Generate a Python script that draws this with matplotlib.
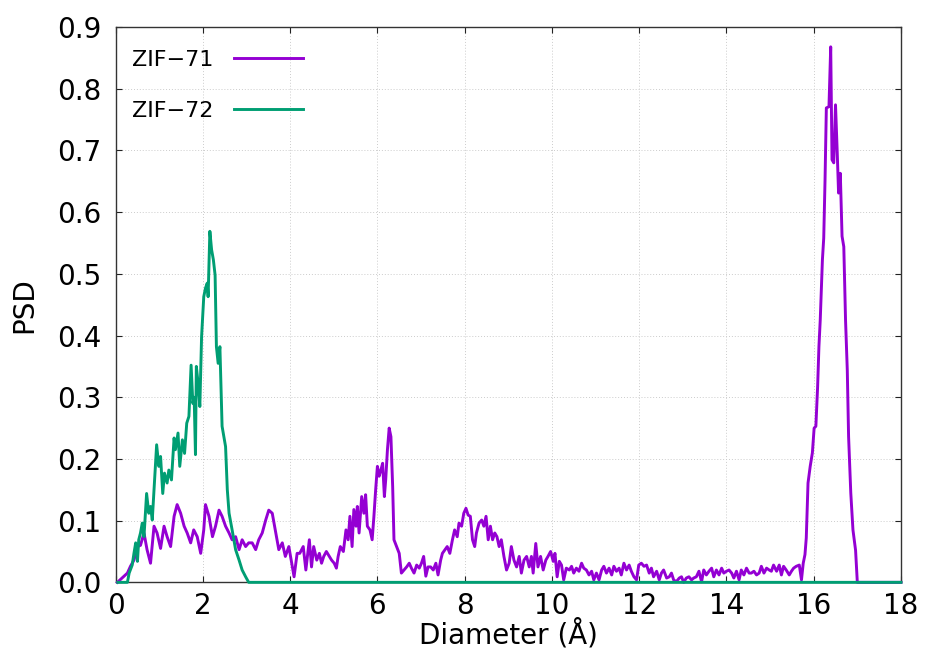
import matplotlib
matplotlib.use("Agg")
import matplotlib.pyplot as plt

# ZIF-71 pore size distribution
zif71_d = [
    0.04, 0.27, 0.34, 0.42, 0.50, 0.57, 0.65, 0.72, 0.80, 0.88, 0.95, 1.03,
    1.11, 1.18, 1.26, 1.34, 1.41, 1.49, 1.57, 1.64, 1.72, 1.79, 1.87, 1.95,
    2.02, 2.06, 2.14, 2.22, 2.29, 2.37, 2.44, 2.52, 2.60, 2.67, 2.75, 2.83,
    2.90, 2.98, 3.05, 3.13, 3.21, 3.28, 3.36, 3.44, 3.51, 3.59, 3.67, 3.74,
    3.82, 3.89, 3.97, 4.09, 4.16,
    4.22, 4.30, 4.36, 4.44, 4.49, 4.54, 4.61, 4.67, 4.72, 4.77, 4.83, 4.90,
    4.95, 5.01, 5.06, 5.10, 5.15, 5.22, 5.28, 5.33, 5.37, 5.42, 5.46, 5.51,
    5.54, 5.58, 5.64, 5.69, 5.73, 5.77, 5.83, 5.88, 5.92, 5.96, 6.00, 6.04,
    6.08, 6.12, 6.16, 6.19, 6.23, 6.27, 6.31, 6.35, 6.38, 6.44, 6.50, 6.55,
    6.61, 6.67, 6.73, 6.78, 6.84, 6.90, 6.96, 7.01, 7.06, 7.11, 7.16, 7.22,
    7.28, 7.34, 7.39, 7.45, 7.49, 7.55, 7.60, 7.66, 7.72, 7.77, 7.83, 7.87,
    7.93, 7.98, 8.03, 8.08, 8.13, 8.18, 8.23, 8.27, 8.33, 8.39, 8.44, 8.49,
    8.54, 8.59, 8.64, 8.69, 8.74, 8.79, 8.84, 8.90, 8.96, 9.02, 9.07, 9.13,
    9.19, 9.25, 9.30, 9.36, 9.42, 9.48, 9.53, 9.57, 9.63, 9.68, 9.74, 9.80,
    9.86, 9.91,
    9.97, 10.03, 10.07, 10.12, 10.17, 10.22, 10.27, 10.33, 10.40, 10.45,
    10.50, 10.56, 10.62, 10.68, 10.73, 10.79, 10.85, 10.91, 10.96, 11.02,
    11.08, 11.14, 11.19, 11.25, 11.31, 11.37, 11.42, 11.48, 11.54, 11.59,
    11.65, 11.71, 11.77, 11.82, 11.88, 11.94, 11.99, 12.05, 12.11, 12.17,
    12.23, 12.28, 12.33, 12.40, 12.46, 12.51, 12.56, 12.63, 12.69, 12.74,
    12.79, 12.85, 12.92, 12.97, 13.02, 13.08, 13.14, 13.20, 13.25, 13.31,
    13.37, 13.43, 13.48, 13.54, 13.60, 13.66, 13.71, 13.77, 13.83, 13.89,
    13.94, 14.00, 14.06, 14.12, 14.17, 14.23, 14.29, 14.34, 14.40, 14.46,
    14.52, 14.57, 14.63, 14.69, 14.75, 14.80, 14.86, 14.92, 14.98, 15.03,
    15.08, 15.15, 15.21, 15.26, 15.31, 15.37, 15.44, 15.49, 15.54, 15.60,
    15.67, 15.72, 15.76, 15.80, 15.83,
    15.87, 15.92, 15.97, 16.01, 16.05, 16.09, 16.12, 16.15, 16.20, 16.23,
    16.26, 16.29, 16.35, 16.39, 16.42, 16.46, 16.50, 16.54, 16.57, 16.61,
    16.65, 16.69, 16.73, 16.77, 16.80, 16.85, 16.90, 16.96, 17.00, 18.00,
]
zif71_psd = [
    0.000, 0.015, 0.026, 0.036, 0.058, 0.060, 0.080, 0.053, 0.031, 0.091, 0.080, 0.055,
    0.091, 0.074, 0.058, 0.107, 0.126, 0.112, 0.091, 0.080, 0.064, 0.085, 0.074, 0.047,
    0.085, 0.126, 0.107, 0.074, 0.091, 0.117, 0.107, 0.091, 0.080, 0.069, 0.074, 0.053,
    0.069, 0.058, 0.064, 0.064, 0.053, 0.069, 0.080, 0.101, 0.117, 0.112, 0.080, 0.053,
    0.064, 0.042, 0.058, 0.009, 0.047,
    0.047, 0.058, 0.020, 0.069, 0.025, 0.058, 0.036, 0.047, 0.031, 0.042, 0.050, 0.042,
    0.036, 0.031, 0.023, 0.042, 0.058, 0.050, 0.085, 0.069, 0.107, 0.058, 0.118, 0.091,
    0.123, 0.080, 0.139, 0.112, 0.142, 0.091, 0.085, 0.069, 0.107, 0.150, 0.188, 0.172,
    0.182, 0.193, 0.139, 0.166, 0.215, 0.250, 0.236, 0.155, 0.069, 0.058, 0.047, 0.015,
    0.020, 0.025, 0.031, 0.023, 0.015, 0.028, 0.023, 0.031, 0.042, 0.010, 0.025, 0.025,
    0.020, 0.031, 0.012, 0.036, 0.047, 0.053, 0.058, 0.047, 0.069, 0.085, 0.074, 0.096,
    0.091, 0.112, 0.120, 0.109, 0.107, 0.069, 0.058, 0.080, 0.096, 0.101, 0.091, 0.107,
    0.069, 0.091, 0.069, 0.080, 0.074, 0.058, 0.069, 0.042, 0.020, 0.031, 0.058, 0.036,
    0.025, 0.042, 0.015, 0.036, 0.042, 0.025, 0.042, 0.015, 0.063, 0.025, 0.042, 0.020,
    0.036, 0.042,
    0.050, 0.034, 0.047, 0.009, 0.034, 0.028, 0.004, 0.023, 0.020, 0.026,
    0.015, 0.023, 0.018, 0.031, 0.023, 0.020, 0.012, 0.018, 0.004, 0.015,
    0.004, 0.020, 0.026, 0.015, 0.023, 0.012, 0.026, 0.018, 0.023, 0.012,
    0.031, 0.020, 0.028, 0.018, 0.009, 0.004, 0.028, 0.031, 0.026, 0.028,
    0.015, 0.023, 0.009, 0.018, 0.004, 0.015, 0.020, 0.007, 0.009, 0.015,
    0.004, 0.001, 0.007, 0.009, 0.000, 0.007, 0.009, 0.004, 0.007, 0.009,
    0.018, 0.001, 0.020, 0.012, 0.018, 0.023, 0.009, 0.020, 0.012, 0.023,
    0.015, 0.018, 0.020, 0.015, 0.007, 0.018, 0.004, 0.020, 0.012, 0.023,
    0.015, 0.015, 0.018, 0.012, 0.015, 0.026, 0.015, 0.023, 0.020, 0.018,
    0.028, 0.018, 0.028, 0.012, 0.026, 0.020, 0.012, 0.018, 0.023, 0.026,
    0.028, 0.004, 0.031, 0.045, 0.072,
    0.161, 0.188, 0.210, 0.250, 0.253, 0.317, 0.382, 0.425, 0.523, 0.558,
    0.652, 0.769, 0.771, 0.868, 0.685, 0.680, 0.774, 0.696, 0.631, 0.663,
    0.561, 0.544, 0.425, 0.344, 0.236, 0.145, 0.085, 0.052, 0.000, 0.000,
]

# ZIF-72
zif72_d = [
    0.05, 0.27, 0.31, 0.38, 0.42, 0.46, 0.50, 0.53, 0.57, 0.61, 0.65, 0.71,
    0.76, 0.80, 0.84, 0.88, 0.94, 0.99, 1.03, 1.08, 1.12, 1.18, 1.22, 1.28,
    1.34, 1.37, 1.43, 1.47, 1.53, 1.58, 1.63, 1.68, 1.73, 1.77, 1.80, 1.83,
    1.85, 1.89, 1.93, 1.97, 2.02, 2.06, 2.10, 2.12, 2.16, 2.20, 2.24, 2.28,
    2.31, 2.35, 2.39, 2.44, 2.52, 2.56, 2.60, 2.67, 2.75, 2.83, 2.90, 2.98,
    3.05, 18.00,
]
zif72_psd = [
    0.000, 0.000, 0.015, 0.028, 0.047, 0.064, 0.034, 0.069, 0.080, 0.096, 0.074, 0.144,
    0.112, 0.123, 0.101, 0.150, 0.223, 0.188, 0.204, 0.144, 0.177, 0.161, 0.182, 0.166,
    0.234, 0.215, 0.242, 0.188, 0.231, 0.209, 0.258, 0.269, 0.352, 0.290, 0.300, 0.207,
    0.350, 0.323, 0.285, 0.398, 0.463, 0.477, 0.485, 0.463, 0.569, 0.539, 0.523, 0.498,
    0.382, 0.355, 0.382, 0.253, 0.220, 0.150, 0.112, 0.085, 0.053, 0.036, 0.020, 0.009,
    0.000, 0.000,
]

x_ticks = [0, 2, 4, 6, 8, 10, 12, 14, 16, 18]
y_ticks = [0.0, 0.1, 0.2, 0.3, 0.4, 0.5, 0.6, 0.7, 0.8, 0.9]

plt.rcParams['font.family'] = ['DejaVu Sans']

fig = plt.figure(figsize=(9.25, 6.61), dpi=100)
ax = fig.add_axes([0.125, 0.119, 0.849, 0.840])

ax.plot(zif71_d, zif71_psd, color='#9400d3', lw=2.1, label='ZIF\u221271',
        clip_on=False, zorder=3)
ax.plot(zif72_d, zif72_psd, color='#009e73', lw=2.1, label='ZIF\u221272',
        clip_on=False, zorder=3)

ax.set_xlim(0, 18)
ax.set_ylim(0, 0.9)
ax.set_xticks(x_ticks)
ax.set_yticks(y_ticks)
ax.set_yticklabels(['%.1f' % v for v in y_ticks])

ax.grid(True, linestyle=(0, (1, 2)), color='#cccccc', linewidth=0.7)
ax.tick_params(direction='in', length=4.5, width=0.8, top=True, right=True,
               labelsize=20, colors='#222222', labelcolor='black')
ax.tick_params(axis='x', pad=7)
ax.tick_params(axis='y', pad=10)
for s in ax.spines.values():
    s.set_color('#333333')
    s.set_linewidth(1.0)

ax.set_xlabel('Diameter (Å)', fontsize=20, labelpad=-1)
ax.set_ylabel('PSD', fontsize=20, labelpad=14)

ax.legend(loc='upper left', frameon=False, markerfirst=False, fontsize=16,
          handlelength=3.1, handletextpad=0.9, labelspacing=1.4,
          borderaxespad=0.0, bbox_to_anchor=(0.01, 0.975))

plt.savefig('out.png', dpi=100)
